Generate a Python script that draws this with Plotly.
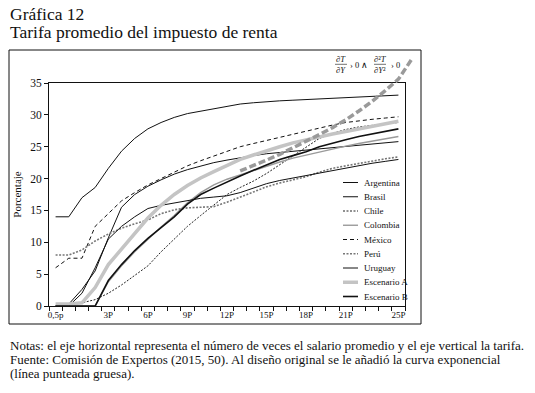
import plotly.graph_objects as go

# ---------------- data ----------------
categories = ["0,5p", "1P", "1,5P", "2P"] + [f"{k}P" for k in range(3, 26)]
tick_labels = ["0,5p", "3P", "6P", "9P", "12P", "15P", "18P", "21P", "25P"]

argentina = [14, 14, 17, 18.6, 21.6, 24.3, 26.3, 27.8, 28.8, 29.6, 30.2, 30.6, 31.0, 31.4, 31.7,
             31.9, 32.1, 32.2, 32.3, 32.4, 32.5, 32.6, 32.7, 32.8, 32.9, 33.0, 33.1]
brasil = [0, 0.3, 2.6, 5.5, 10.7, 15.5, 17.5, 18.8, 19.8, 20.7, 21.4, 22.0, 22.5, 22.9, 23.3,
          23.6, 23.9, 24.1, 24.3, 24.5, 24.7, 24.9, 25.1, 25.3, 25.5, 25.7, 25.8]
chile = [0, 0.2, 0.5, 1.0, 2.0, 3.3, 4.8, 6.3, 8.5, 10.5, 12.5, 14.2, 15.8, 17.5, 18.6,
         19.6, 20.8, 22.2, 23.6, 25.0, 26.3, 27.1, 27.7, 28.1, 28.4, 28.6, 28.8]
colombia = [0, 0, 0, 0, 3.8, 6.3, 8.5, 10.5, 12.4, 14.2, 16.2, 17.8, 19.0, 19.9, 20.6,
            21.2, 22.0, 22.6, 23.2, 23.7, 24.2, 24.7, 25.1, 25.5, 25.9, 26.3, 26.6]
mexico = [6, 7.5, 7.5, 12.5, 14.5, 16.5, 17.8, 19.0, 20.0, 21.0, 22.0, 22.8, 23.5, 24.3, 25.0,
          25.5, 26.0, 26.5, 27.0, 27.5, 28.0, 28.4, 28.8, 29.1, 29.3, 29.5, 29.7]
peru = [8, 8, 8.8, 10.2, 11.3, 12.2, 12.9, 13.5, 14.5, 15.1, 15.4, 15.5, 15.6, 16.3, 17.1,
        17.9, 18.7, 19.3, 19.8, 20.3, 21.0, 21.6, 22.0, 22.4, 22.8, 23.1, 23.4]
uruguay = [0, 0, 2, 6, 10.5, 12.5, 14.0, 15.3, 15.8, 16.2, 16.6, 16.9, 17.1, 17.3, 17.8,
           18.5, 19.2, 19.7, 20.1, 20.5, 20.9, 21.3, 21.7, 22.1, 22.4, 22.7, 23.0]
escenario_a = [0.3, 0.3, 0.5, 2.9, 6.5, 9.0, 11.5, 13.8, 15.8, 17.5, 18.9, 20.1, 21.1, 22.1, 23.0,
               23.7, 24.4, 25.0, 25.6, 26.1, 26.6, 27.0, 27.4, 27.8, 28.2, 28.6, 29.0]
escenario_b = [0, 0, 0, 0, 4.0, 6.5, 8.7, 10.6, 12.3, 14.0, 16.0, 17.5, 18.5, 19.5, 20.4,
               21.3, 22.2, 23.0, 23.6, 24.2, 25.0, 25.6, 26.1, 26.6, 27.0, 27.4, 27.8]
# added exponential curve (thick dashed), from 13P beyond 25P
expo_cats = ["13P", "14P", "15P", "16P", "17P", "18P", "19P", "20P", "21P", "22P", "23P", "24P", "25P", "26P"]
expo_vals = [21.2, 22.0, 22.9, 23.8, 24.8, 25.8, 26.9, 28.0, 29.2, 30.6, 32.1, 33.8, 35.6, 38.7]

series = [
    ("Argentina", argentina, dict(color="#111111", width=1)),
    ("Brasil", brasil, dict(color="#111111", width=1)),
    ("Chile", chile, dict(color="#222222", width=1, dash="2px,1.5px")),
    ("Colombia", colombia, dict(color="#9a9a9a", width=1.4)),
    ("México", mexico, dict(color="#111111", width=1, dash="4px,3px")),
    ("Perú", peru, dict(color="#777777", width=1.6, dash="2px,1.5px")),
    ("Uruguay", uruguay, dict(color="#111111", width=1)),
    ("Escenario A", escenario_a, dict(color="#c4c4c4", width=3.5)),
    ("Escenario B", escenario_b, dict(color="#111111", width=1.6)),
]

# ---------------- geometry (pixels) ----------------
W, H = 535, 393
ML, MR, MT, MB = 49, 110, 52, 87
PW, PH = W - ML - MR, H - MT - MB
plot_left, plot_right, plot_top, plot_bottom = 49, 405, 83, 306
n = len(categories)
xr = [-0.5, n - 0.5]
yr = [0, 35]
x_dom = [0, (plot_right - ML) / PW]
y_dom = [0, (H - MB - plot_top) / PH]
# second axes pair with the same scale but a larger area (for the curve leaving the box)
x2_range = [xr[0], xr[0] + (xr[1] - xr[0]) / x_dom[1]]
y2_range = [0, yr[1] / y_dom[1]]


def px(x):
    return (x - ML) / PW


def py(y):
    return (H - MB - y) / PH


idx = {c: i for i, c in enumerate(categories)}
idx["26P"] = n

serif = "Liberation Serif"
fig = go.Figure()
for name, vals, line in series:
    fig.add_trace(go.Scatter(x=[idx[c] for c in categories], y=vals, mode="lines", name=name,
                             line=line, showlegend=False, xaxis="x", yaxis="y"))
fig.add_trace(go.Scatter(x=[idx[c] for c in expo_cats], y=expo_vals, mode="lines",
                         line=dict(color="#9a9a9a", width=3.5, dash="7px,3px"), cliponaxis=False,
                         showlegend=False, xaxis="x2", yaxis="y2", hoverinfo="skip"))

fig.update_layout(
    width=W, height=H, margin=dict(l=ML, r=MR, t=MT, b=MB, autoexpand=False),
    paper_bgcolor="white", plot_bgcolor="rgba(0,0,0,0)",
    font=dict(family=serif, color="#111111"),
    xaxis=dict(domain=x_dom, range=xr, showgrid=False, zeroline=False, automargin=False,
               showline=True, linecolor="#111111", linewidth=1, mirror=True,
               tickmode="array", tickvals=[categories.index(t) for t in tick_labels],
               ticktext=tick_labels, ticks="", tickfont=dict(size=9, family=serif),
               minor=dict(tickmode="linear", tick0=-0.5, dtick=1, ticks="outside",
                          ticklen=4, tickcolor="#111111", showgrid=False)),
    yaxis=dict(domain=y_dom, range=yr, showgrid=False, zeroline=False, automargin=False,
               showline=True, linecolor="#111111", linewidth=1, mirror=True,
               tickmode="linear", tick0=0, dtick=5, ticks="outside", ticklen=4,
               tickcolor="#111111", tickfont=dict(size=11.5, family=serif),
               title=dict(text="Porcentaje", font=dict(size=11, family=serif), standoff=6)),
    xaxis2=dict(domain=[0, 1], range=x2_range, visible=False, anchor="y2", fixedrange=True),
    yaxis2=dict(domain=[0, 1], range=y2_range, visible=False, anchor="x2", fixedrange=True),
)

shapes = []
annotations = []
# outer frame
shapes.append(dict(type="rect", xref="paper", yref="paper", x0=px(9), x1=px(421), y0=py(324), y1=py(50),
                   line=dict(color="#111111", width=1)))

# manual legend
leg_y0, leg_dy = 182.5, 14.25
for k, (name, vals, line) in enumerate(series):
    yy = leg_y0 + k * leg_dy
    shapes.append(dict(type="line", xref="paper", yref="paper", x0=px(343), x1=px(358), y0=py(yy), y1=py(yy),
                       line=dict(color=line["color"], width=line["width"], dash=line.get("dash", "solid"))))
    annotations.append(dict(text=name, xref="paper", yref="paper", x=px(362), y=py(yy), xanchor="left",
                            yanchor="middle", showarrow=False, font=dict(size=9, family=serif)))

# titles
annotations.append(dict(text="Gráfica 12", xref="paper", yref="paper", x=px(8), y=py(14), xanchor="left",
                        yanchor="middle", showarrow=False, font=dict(size=17.5, family=serif)))
annotations.append(dict(text="Tarifa promedio del impuesto de renta", xref="paper", yref="paper", x=px(8),
                        y=py(32), xanchor="left", yanchor="middle", showarrow=False,
                        font=dict(size=17.5, family=serif)))

# notes
notes = ["Notas: el eje horizontal representa el número de veces el salario promedio y el eje vertical la tarifa.",
         "Fuente: Comisión de Expertos (2015, 50). Al diseño original se le añadió la curva exponencial",
         "(línea punteada gruesa)."]
for k, t in enumerate(notes):
    annotations.append(dict(text=t, xref="paper", yref="paper", x=px(8), y=py(345 + 14 * k), xanchor="left",
                            yanchor="middle", showarrow=False, font=dict(size=13, family=serif)))

# formula
fs = 8.5
def frac(cx, num, den):
    annotations.append(dict(text=num, xref="paper", yref="paper", x=px(cx), y=py(59), xanchor="center",
                            yanchor="middle", showarrow=False, font=dict(size=fs, family=serif)))
    annotations.append(dict(text=den, xref="paper", yref="paper", x=px(cx), y=py(69.5), xanchor="center",
                            yanchor="middle", showarrow=False, font=dict(size=fs, family=serif)))
    shapes.append(dict(type="line", xref="paper", yref="paper", x0=px(cx - 6), x1=px(cx + 6), y0=py(64.3),
                       y1=py(64.3), line=dict(color="#111111", width=0.6)))

frac(341, "∂<i>T</i>", "∂<i>Y</i>")
frac(380, "∂²<i>T</i>", "∂<i>Y</i>²")
annotations.append(dict(text="› 0 ∧", xref="paper", yref="paper", x=px(359), y=py(64.5), xanchor="center",
                        yanchor="middle", showarrow=False, font=dict(size=fs, family=serif)))
annotations.append(dict(text="› 0", xref="paper", yref="paper", x=px(395), y=py(64.5), xanchor="center",
                        yanchor="middle", showarrow=False, font=dict(size=fs, family=serif)))

fig.update_layout(shapes=shapes, annotations=annotations)
fig.write_html("out.html", config={"displayModeBar": False},
               post_script="document.body.style.margin='0';")
